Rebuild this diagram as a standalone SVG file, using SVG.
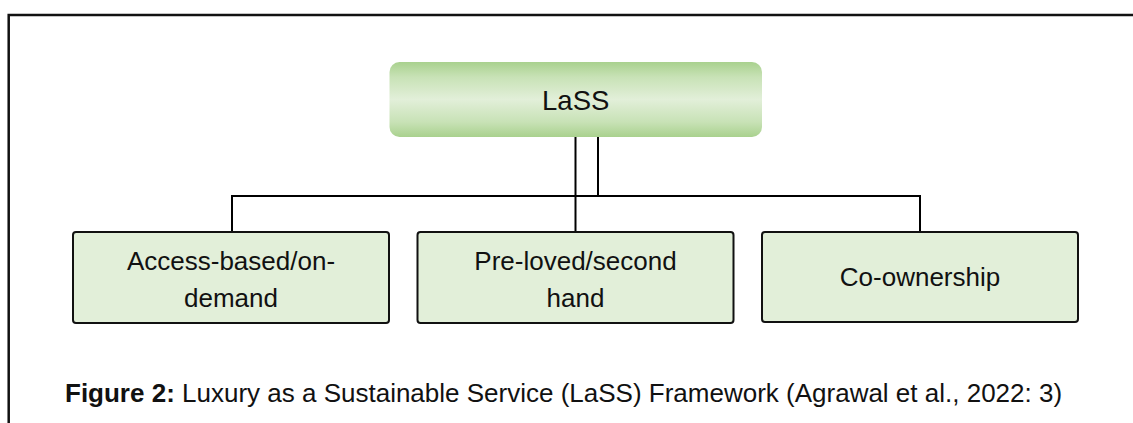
<svg xmlns="http://www.w3.org/2000/svg" width="1133" height="423" viewBox="0 0 1133 423">
  <defs>
    <linearGradient id="rootFill" x1="0" y1="0" x2="0" y2="1">
      <stop offset="0" stop-color="#a9d18e"/>
      <stop offset="0.2" stop-color="#c8e2b6"/>
      <stop offset="0.5" stop-color="#e2efd9"/>
      <stop offset="0.8" stop-color="#c8e2b6"/>
      <stop offset="1" stop-color="#a9d18e"/>
    </linearGradient>
  </defs>
  <style>
    .frame { fill: none; stroke: #111; stroke-width: 2.5; }
    .link { fill: none; stroke: #000; stroke-width: 2; }
    .leaf { fill: #e2efd9; stroke: #111; stroke-width: 2; }
    .label { font-family: "Liberation Sans", Arial, Helvetica, sans-serif; font-size: 26px; fill: #111; text-anchor: middle; }
    .title { font-size: 27.5px; }
    .caption { font-family: "Liberation Sans", Arial, Helvetica, sans-serif; font-size: 26px; fill: #111; }
  </style>
  <rect width="1133" height="423" fill="#fff"/>

  <!-- page frame: top and left rules -->
  <path class="frame" d="M8.7 423 V15 H1133"/>

  <!-- connectors -->
  <g id="connectors">
    <path class="link" d="M575.5 136 V232"/>
    <path class="link" d="M598 137 V196"/>
    <path class="link" d="M232 232 V196 H920 V232"/>
  </g>

  <g id="node-lass">
    <rect x="389.5" y="62" width="372.5" height="75" rx="10" fill="url(#rootFill)"/>
    <text class="label title" x="575.7" y="110">LaSS</text>
  </g>

  <g id="node-access">
    <rect class="leaf" x="73" y="232" width="316" height="91" rx="3"/>
    <text class="label" x="231" y="270">Access-based/on-</text>
    <text class="label" x="231" y="306.5">demand</text>
  </g>

  <g id="node-preloved">
    <rect class="leaf" x="417.5" y="232" width="316" height="91" rx="3"/>
    <text class="label" x="575.5" y="270">Pre-loved/second</text>
    <text class="label" x="575.5" y="306.5">hand</text>
  </g>

  <g id="node-coownership">
    <rect class="leaf" x="762" y="232" width="316" height="90" rx="3"/>
    <text class="label" x="920" y="286">Co-ownership</text>
  </g>

  <text class="caption" x="65" y="402"><tspan font-weight="bold">Figure 2:</tspan> Luxury as a Sustainable Service (LaSS) Framework (Agrawal et al., 2022: 3)</text>
</svg>
